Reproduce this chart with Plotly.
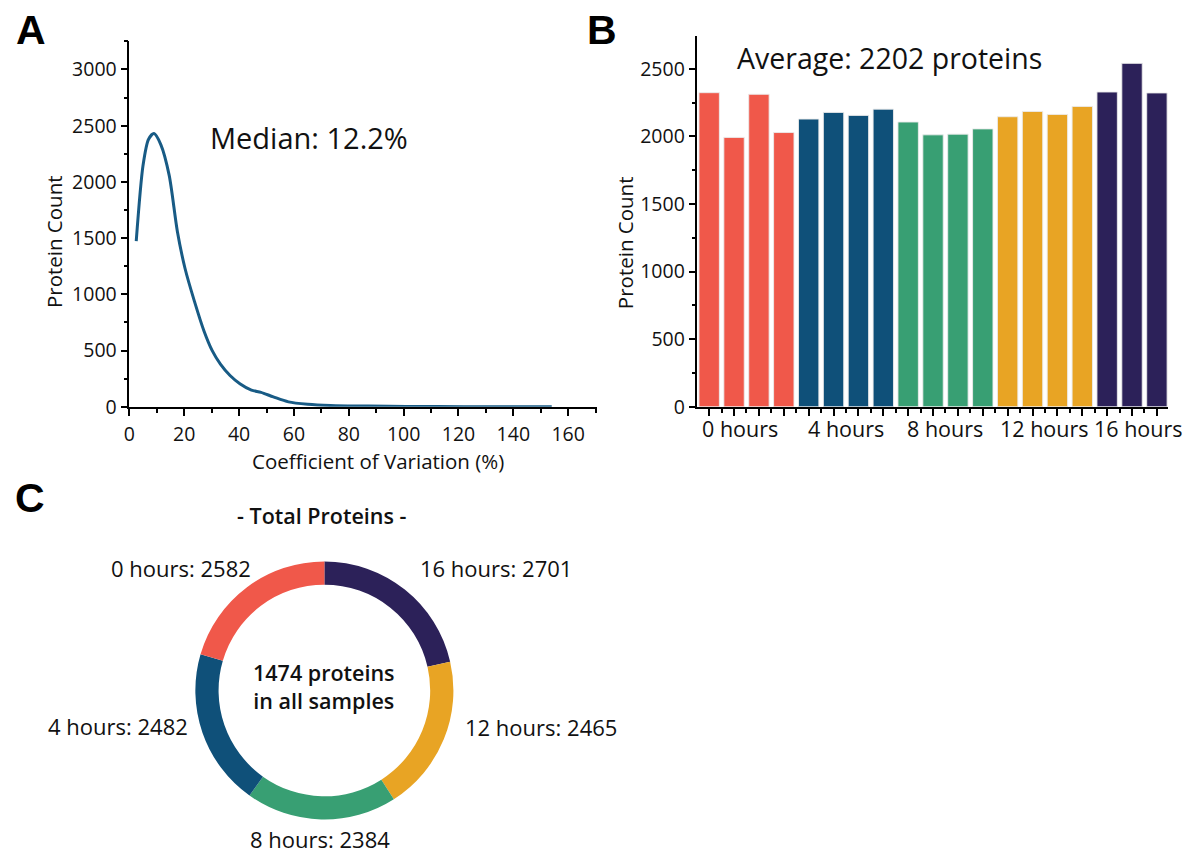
import plotly.graph_objects as go

W, H = 1186, 865
FONT = "Open Sans"

# ---------- Data ----------
# Panel A: CV density curve
cv_x = [2.5, 5, 7, 9, 11.5, 14.5, 17.5, 20.3, 23.7, 27.2, 30.2, 33.2, 36.7, 40.3,
        44.5, 48, 52.5, 58, 65, 73.3, 87, 101, 122, 140, 154]
cv_y = [1474, 2150, 2380, 2430, 2330, 2060, 1560, 1230, 940, 675, 500, 380, 278, 205,
        148, 128, 88, 44, 23, 12, 6, 3, 1, 0.5, 0]

# Panel B: protein counts per sample
sample_counts = [2324, 1993, 2312, 2029,
                 2129, 2178, 2156, 2202,
                 2107, 2012, 2017, 2056,
                 2146, 2185, 2163, 2222,
                 2329, 2541, 2322]
sample_group = [0, 0, 0, 0, 1, 1, 1, 1, 2, 2, 2, 2, 3, 3, 3, 3, 4, 4, 4]
group_labels = ["0 hours", "4 hours", "8 hours", "12 hours", "16 hours"]
group_colors = ["#F0584A", "#0F5079", "#389F73", "#E8A424", "#2C2159"]

# Panel C: total proteins per time point (clockwise from top)
donut_labels = ["16 hours", "12 hours", "8 hours", "4 hours", "0 hours"]
donut_values = [2701, 2465, 2384, 2482, 2582]
donut_colors = ["#2C2159", "#E8A424", "#389F73", "#0F5079", "#F0584A"]


def px(x):
    return x / W


def py(y):
    return 1 - y / H


fig = go.Figure()

# ---------- Panel A ----------
fig.add_trace(go.Scatter(
    x=cv_x, y=cv_y, mode="lines",
    line=dict(color="#185B85", width=3, shape="spline", smoothing=0.8),
    xaxis="x", yaxis="y", showlegend=False, hoverinfo="x+y"))

# ---------- Panel B ----------
bar_x = list(range(1, len(sample_counts) + 1))
fig.add_trace(go.Bar(
    x=bar_x, y=sample_counts,
    marker=dict(color=[group_colors[g] for g in sample_group],
                line=dict(color="rgba(235,235,235,0.9)", width=1)),
    xaxis="x2", yaxis="y2", showlegend=False, width=0.82))

# ---------- Panel C ----------
fig.add_trace(go.Pie(
    labels=donut_labels, values=donut_values, hole=0.82,
    sort=False, direction="clockwise", rotation=0,
    marker=dict(colors=donut_colors, line=dict(width=0)),
    textinfo="none", showlegend=False,
    domain=dict(x=[px(189), px(451)], y=[py(832), py(570)])))

TICKFONT = dict(family=FONT, size=19.5, color="#111")
TITLEFONT = dict(family=FONT, size=20.5, color="#111")
axis_common = dict(
    showline=True, linecolor="black", linewidth=1.5,
    ticks="outside", ticklen=7, tickwidth=1.5, tickcolor="black",
    showgrid=False, zeroline=False, tickfont=TICKFONT,
)
minor_common = dict(ticklen=4, tickwidth=1.5, tickcolor="black", ticks="outside")

fig.update_layout(
    width=W, height=H,
    margin=dict(l=0, r=0, t=0, b=0),
    paper_bgcolor="white", plot_bgcolor="white",
    font=dict(family=FONT, color="#111"),
    xaxis=dict(domain=[px(124), px(594)], range=[0, 170.5], anchor="y",
               tickvals=[0, 20, 40, 60, 80, 100, 120, 140, 160],
               minor=dict(tickvals=[10, 30, 50, 70, 90, 110, 130, 150, 170], **minor_common),
               ticklabelstandoff=2,
               **axis_common),
    yaxis=dict(domain=[py(413), py(42)], range=[0, 3250], anchor="x",
               tickvals=[0, 500, 1000, 1500, 2000, 2500, 3000],
               minor=dict(tickvals=[250, 750, 1250, 1750, 2250, 2750, 3250], **minor_common),
               **axis_common),
    xaxis2=dict(domain=[px(695), px(1168)], range=[0.53, 19.45], anchor="y2",
                tickvals=bar_x, ticktext=[""] * len(bar_x),
                minor=dict(tickvals=[i + 0.5 for i in range(0, 20)], **minor_common),
                **axis_common),
    yaxis2=dict(domain=[py(413), py(37)], range=[0, 2740], anchor="x2",
                tickvals=[0, 500, 1000, 1500, 2000, 2500],
                minor=dict(tickvals=[250, 750, 1250, 1750, 2250], **minor_common),
                **axis_common),
    bargap=0.2,
)


def text_ann(text, x, y, font, xref="paper", textangle=0):
    return dict(text=text, x=x, y=py(y), xref=xref, yref="paper", showarrow=False,
                xanchor="center", yanchor="middle", textangle=textangle, font=font,
                borderpad=0)


annotations = []
# Panel letters
for letter, x, y in [("A", 25, 30), ("B", 599, 30), ("C", 24, 506)]:
    annotations.append(text_ann(letter, px(x), y,
                                dict(family="Liberation Sans", size=41, color="black",
                                     weight="bold")))
# axis titles
annotations.append(text_ann("Coefficient of Variation (%)", px(374), 468, TITLEFONT))
annotations.append(text_ann("Protein Count", px(49), 245, TITLEFONT, textangle=-90))
annotations.append(text_ann("Protein Count", px(622), 246, TITLEFONT, textangle=-90))
# in-plot labels
annotations.append(text_ann("Median: 12.2%", px(305), 140,
                            dict(family=FONT, size=29, color="#111")))
annotations.append(text_ann("Average: 2202 proteins", px(888), 59,
                            dict(family=FONT, size=28.5, color="#111")))
# group labels under bars
group_pos = []
for g in range(len(group_labels)):
    idx = [bar_x[i] for i in range(len(bar_x)) if sample_group[i] == g]
    group_pos.append(sum(idx) / len(idx))
group_pos[0] -= 0.25
group_pos[-1] += 0.25
for lab, xp in zip(group_labels, group_pos):
    annotations.append(text_ann(lab, xp, 435, dict(family=FONT, size=21.5, color="#111"),
                                xref="x2"))
# donut labels
donut_label_pos = {"0 hours": (176, 577), "16 hours": (492, 577), "4 hours": (113, 737),
                   "12 hours": (538, 738), "8 hours": (316, 852)}
for lab, val in zip(donut_labels, donut_values):
    x, y = donut_label_pos[lab]
    annotations.append(text_ann(f"{lab}: {val}", px(x), y,
                                dict(family=FONT, size=22, color="#111")))
annotations.append(text_ann("- Total Proteins -", px(318), 523,
                            dict(family=FONT, size=21.5, color="#111", weight=600)))
annotations.append(text_ann("1474 proteins<br>in all samples", px(320), 697,
                            dict(family=FONT, size=21.5, color="#111", weight=600)))
fig.update_layout(annotations=annotations)

fig.write_html("out.html")
